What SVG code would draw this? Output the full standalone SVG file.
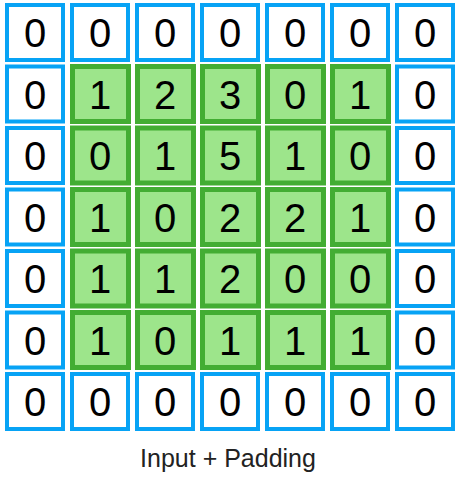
<svg xmlns="http://www.w3.org/2000/svg" width="462" height="485" viewBox="0 0 462 485">
<style>
.b{fill:#ffffff;stroke:#07a3f5;stroke-width:4}
.g{fill:#9de58b;stroke:#43ad33;stroke-width:5}
.d{font-family:"Liberation Sans",Arial,sans-serif;font-size:40px;fill:#000;text-anchor:middle}
.t{font-family:"Liberation Sans",Arial,sans-serif;font-size:25px;fill:#222;text-anchor:middle}
</style>
<rect width="462" height="485" fill="#ffffff"/>
<g id="connectors"></g>
<g id="c00"><rect class="b" x="7" y="5" width="56" height="55"/><text class="d" x="35" y="47">0</text></g>
<g id="c01"><rect class="b" x="72" y="5" width="56" height="55"/><text class="d" x="100" y="47">0</text></g>
<g id="c02"><rect class="b" x="137" y="5" width="56" height="55"/><text class="d" x="165" y="47">0</text></g>
<g id="c03"><rect class="b" x="202" y="5" width="56" height="55"/><text class="d" x="230" y="47">0</text></g>
<g id="c04"><rect class="b" x="267" y="5" width="56" height="55"/><text class="d" x="295" y="47">0</text></g>
<g id="c05"><rect class="b" x="332" y="5" width="56" height="55"/><text class="d" x="360" y="47">0</text></g>
<g id="c06"><rect class="b" x="397" y="5" width="56" height="55"/><text class="d" x="425" y="47">0</text></g>

<g id="c10"><rect class="b" x="7" y="66.5" width="56" height="55"/><text class="d" x="35" y="108.5">0</text></g>
<g id="c11"><rect class="g" x="72.5" y="66.5" width="56" height="55"/><text class="d" x="100" y="108.5">1</text></g>
<g id="c12"><rect class="g" x="137.5" y="66.5" width="56" height="55"/><text class="d" x="165" y="108.5">2</text></g>
<g id="c13"><rect class="g" x="202.5" y="66.5" width="56" height="55"/><text class="d" x="230" y="108.5">3</text></g>
<g id="c14"><rect class="g" x="267.5" y="66.5" width="56" height="55"/><text class="d" x="295" y="108.5">0</text></g>
<g id="c15"><rect class="g" x="332.5" y="66.5" width="56" height="55"/><text class="d" x="360" y="108.5">1</text></g>
<g id="c16"><rect class="b" x="397" y="66.5" width="56" height="55"/><text class="d" x="425" y="108.5">0</text></g>

<g id="c20"><rect class="b" x="7" y="128" width="56" height="55"/><text class="d" x="35" y="170">0</text></g>
<g id="c21"><rect class="g" x="72.5" y="128" width="56" height="55"/><text class="d" x="100" y="170">0</text></g>
<g id="c22"><rect class="g" x="137.5" y="128" width="56" height="55"/><text class="d" x="165" y="170">1</text></g>
<g id="c23"><rect class="g" x="202.5" y="128" width="56" height="55"/><text class="d" x="230" y="170">5</text></g>
<g id="c24"><rect class="g" x="267.5" y="128" width="56" height="55"/><text class="d" x="295" y="170">1</text></g>
<g id="c25"><rect class="g" x="332.5" y="128" width="56" height="55"/><text class="d" x="360" y="170">0</text></g>
<g id="c26"><rect class="b" x="397" y="128" width="56" height="55"/><text class="d" x="425" y="170">0</text></g>

<g id="c30"><rect class="b" x="7" y="189.5" width="56" height="55"/><text class="d" x="35" y="231.5">0</text></g>
<g id="c31"><rect class="g" x="72.5" y="189.5" width="56" height="55"/><text class="d" x="100" y="231.5">1</text></g>
<g id="c32"><rect class="g" x="137.5" y="189.5" width="56" height="55"/><text class="d" x="165" y="231.5">0</text></g>
<g id="c33"><rect class="g" x="202.5" y="189.5" width="56" height="55"/><text class="d" x="230" y="231.5">2</text></g>
<g id="c34"><rect class="g" x="267.5" y="189.5" width="56" height="55"/><text class="d" x="295" y="231.5">2</text></g>
<g id="c35"><rect class="g" x="332.5" y="189.5" width="56" height="55"/><text class="d" x="360" y="231.5">1</text></g>
<g id="c36"><rect class="b" x="397" y="189.5" width="56" height="55"/><text class="d" x="425" y="231.5">0</text></g>

<g id="c40"><rect class="b" x="7" y="251" width="56" height="55"/><text class="d" x="35" y="293">0</text></g>
<g id="c41"><rect class="g" x="72.5" y="251" width="56" height="55"/><text class="d" x="100" y="293">1</text></g>
<g id="c42"><rect class="g" x="137.5" y="251" width="56" height="55"/><text class="d" x="165" y="293">1</text></g>
<g id="c43"><rect class="g" x="202.5" y="251" width="56" height="55"/><text class="d" x="230" y="293">2</text></g>
<g id="c44"><rect class="g" x="267.5" y="251" width="56" height="55"/><text class="d" x="295" y="293">0</text></g>
<g id="c45"><rect class="g" x="332.5" y="251" width="56" height="55"/><text class="d" x="360" y="293">0</text></g>
<g id="c46"><rect class="b" x="397" y="251" width="56" height="55"/><text class="d" x="425" y="293">0</text></g>

<g id="c50"><rect class="b" x="7" y="312.5" width="56" height="55"/><text class="d" x="35" y="354.5">0</text></g>
<g id="c51"><rect class="g" x="72.5" y="312.5" width="56" height="55"/><text class="d" x="100" y="354.5">1</text></g>
<g id="c52"><rect class="g" x="137.5" y="312.5" width="56" height="55"/><text class="d" x="165" y="354.5">0</text></g>
<g id="c53"><rect class="g" x="202.5" y="312.5" width="56" height="55"/><text class="d" x="230" y="354.5">1</text></g>
<g id="c54"><rect class="g" x="267.5" y="312.5" width="56" height="55"/><text class="d" x="295" y="354.5">1</text></g>
<g id="c55"><rect class="g" x="332.5" y="312.5" width="56" height="55"/><text class="d" x="360" y="354.5">1</text></g>
<g id="c56"><rect class="b" x="397" y="312.5" width="56" height="55"/><text class="d" x="425" y="354.5">0</text></g>

<g id="c60"><rect class="b" x="7" y="374" width="56" height="55"/><text class="d" x="35" y="416">0</text></g>
<g id="c61"><rect class="b" x="72" y="374" width="56" height="55"/><text class="d" x="100" y="416">0</text></g>
<g id="c62"><rect class="b" x="137" y="374" width="56" height="55"/><text class="d" x="165" y="416">0</text></g>
<g id="c63"><rect class="b" x="202" y="374" width="56" height="55"/><text class="d" x="230" y="416">0</text></g>
<g id="c64"><rect class="b" x="267" y="374" width="56" height="55"/><text class="d" x="295" y="416">0</text></g>
<g id="c65"><rect class="b" x="332" y="374" width="56" height="55"/><text class="d" x="360" y="416">0</text></g>
<g id="c66"><rect class="b" x="397" y="374" width="56" height="55"/><text class="d" x="425" y="416">0</text></g>

<g id="caption"><text class="t" x="228" y="467">Input + Padding</text></g>
</svg>
